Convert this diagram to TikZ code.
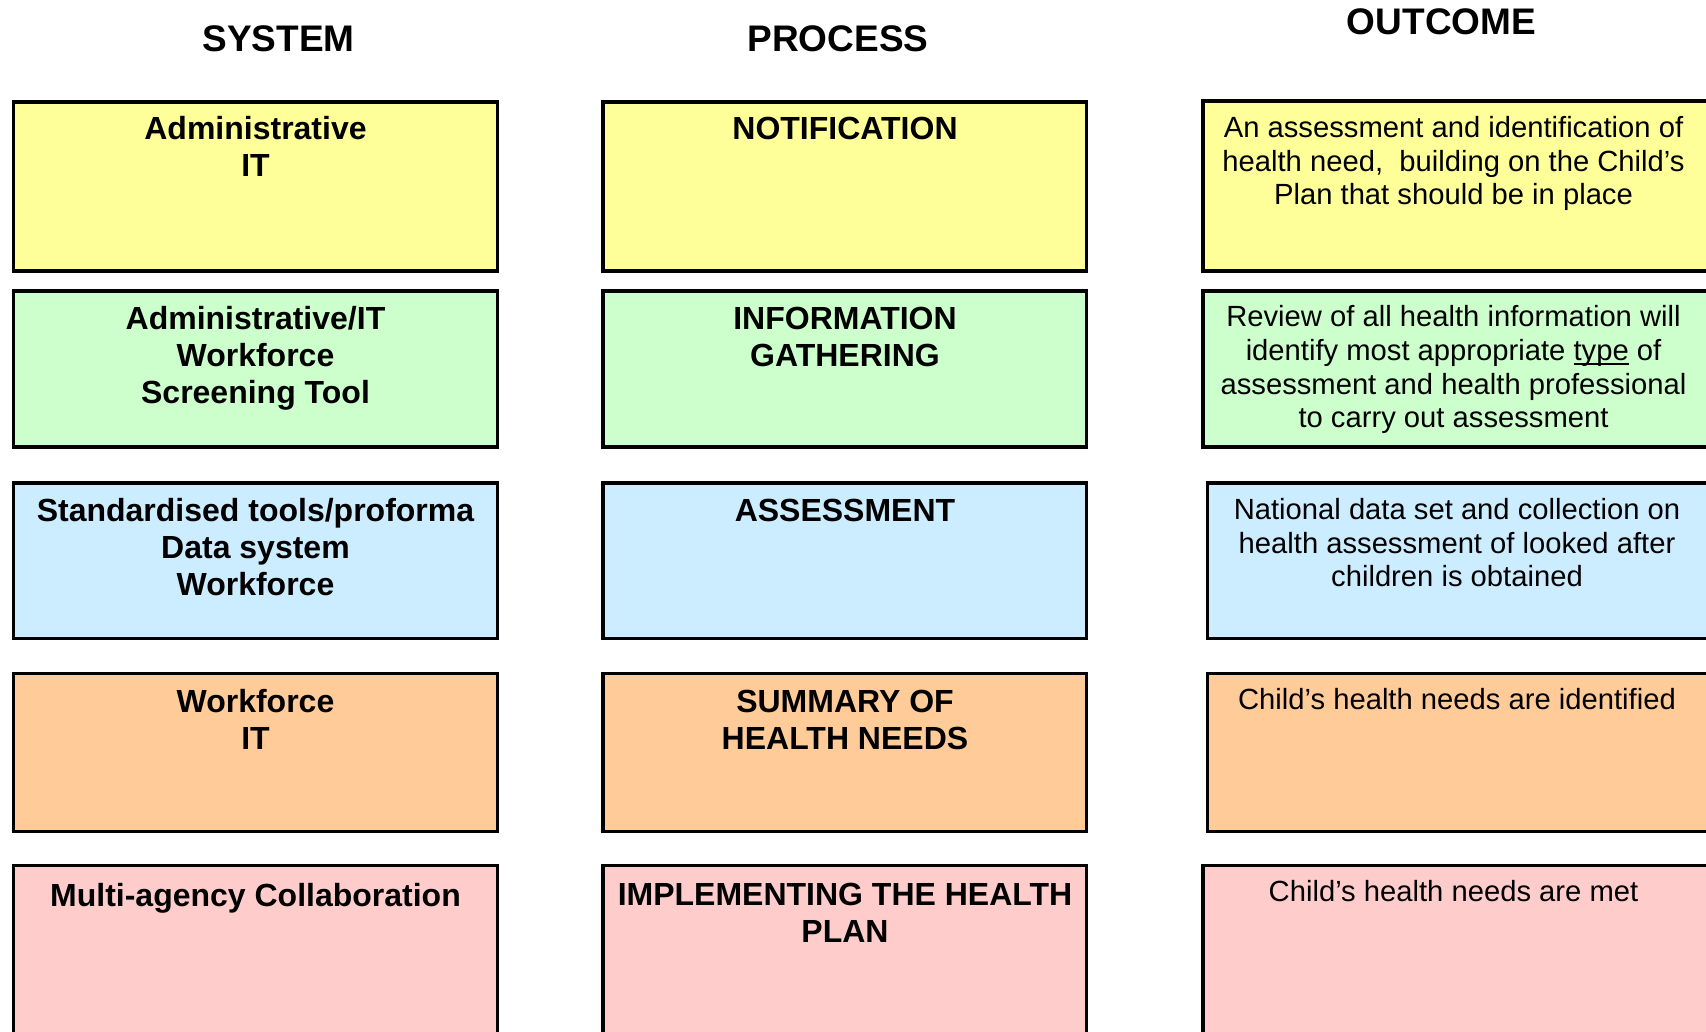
\documentclass[tikz,border=0pt]{standalone}
\usepackage{fontspec}
\setmainfont{Liberation Sans}
\definecolor{cyellow}{HTML}{FFFF99}
\definecolor{cgreen}{HTML}{CCFFCC}
\definecolor{cblue}{HTML}{CCECFF}
\definecolor{corange}{HTML}{FFCC99}
\definecolor{cpink}{HTML}{FFCCCC}
\newcommand{\stack}[1]{\begin{tabular}[t]{@{}c@{}}#1\end{tabular}}
\newcommand{\ruleunder}[1]{\setbox0\hbox{#1}\rlap{\rule[-4pt]{\wd0}{2pt}}\box0\relax}
\begin{document}
\begin{tikzpicture}[x=1pt,y=-1pt,
  cell/.style={draw=black, line width=3.2pt, inner sep=0pt, outer sep=0pt, anchor=north west},
  heading/.style={anchor=base, inner sep=0pt, font=\bfseries\fontsize{37}{42}\selectfont},
  boldtext/.style={anchor=base, inner sep=0pt, font=\bfseries\fontsize{32}{37}\selectfont},
  plaintext/.style={anchor=base, inner sep=0pt, font=\fontsize{29.2}{33.5}\selectfont}]
\useasboundingbox (0,0) rectangle (1706,1032);
\clip (0,0) rectangle (1706,1032);

% column headings
\node[heading] (hsys) at (278.5,52) {SYSTEM};
\node[heading] (hproc) at (838,52) {PROCESS};
\node[heading] (hout) at (1441.5,35) {OUTCOME};

% row 1: notification
\node[cell, fill=cyellow, minimum width=484pt, minimum height=169pt] (s1) at (13.5,102) {};
\node[cell, fill=cyellow, minimum width=483.5pt, minimum height=169pt] (p1) at (603,102) {};
\node[cell, fill=cyellow, minimum width=517pt, minimum height=170pt] (o1) at (1203,101) {};
\node[boldtext] (s1t) at (255.5,140) {\stack{Administrative\\IT}};
\node[boldtext] (p1t) at (845,140) {\stack{NOTIFICATION}};
\node[plaintext] (o1t) at (1453.5,138) {\stack{An assessment and identification of\\health need,\ \ building on the Child’s\\Plan that should be in place}};

% row 2: information gathering
\node[cell, fill=cgreen, minimum width=484pt, minimum height=156pt] (s2) at (13.5,291) {};
\node[cell, fill=cgreen, minimum width=483.5pt, minimum height=156pt] (p2) at (603,291) {};
\node[cell, fill=cgreen, minimum width=517pt, minimum height=156pt] (o2) at (1203,291) {};
\node[boldtext] (s2t) at (255.5,330) {\stack{Administrative/IT\\Workforce\\Screening Tool}};
\node[boldtext] (p2t) at (845,330) {\stack{INFORMATION\\GATHERING}};
\node[plaintext] (o2t) at (1453.5,327) {\stack{Review of all health information will\\identify most appropriate \ruleunder{type} of\\assessment and health professional\\to carry out assessment}};

% row 3: assessment
\node[cell, fill=cblue, minimum width=484pt, minimum height=155.5pt] (s3) at (13.5,483) {};
\node[cell, fill=cblue, minimum width=483.5pt, minimum height=155.5pt] (p3) at (603,483) {};
\node[cell, fill=cblue, minimum width=512.5pt, minimum height=155.5pt] (o3) at (1207.5,483) {};
\node[boldtext] (s3t) at (255.5,521.5) {\stack{Standardised tools/proforma\\Data system\\Workforce}};
\node[boldtext] (p3t) at (845,521.5) {\stack{ASSESSMENT}};
\node[plaintext] (o3t) at (1457,519.5) {\stack{National data set and collection on\\health assessment of looked after\\children is obtained}};

% row 4: summary of health needs
\node[cell, fill=corange, minimum width=484pt, minimum height=158pt] (s4) at (13.5,673.5) {};
\node[cell, fill=corange, minimum width=483.5pt, minimum height=158pt] (p4) at (603,673.5) {};
\node[cell, fill=corange, minimum width=512.5pt, minimum height=158pt] (o4) at (1207.5,673.5) {};
\node[boldtext] (s4t) at (255.5,712) {\stack{Workforce\\IT}};
\node[boldtext] (p4t) at (845,712) {\stack{SUMMARY OF\\HEALTH NEEDS}};
\node[plaintext] (o4t) at (1457,709.5) {\stack{Child’s health needs are identified}};

% row 5: implementing the plan
\node[cell, fill=cpink, minimum width=484pt, minimum height=240pt] (s5) at (13.5,865.5) {};
\node[cell, fill=cpink, minimum width=483.5pt, minimum height=240pt] (p5) at (603,865.5) {};
\node[cell, fill=cpink, minimum width=517pt, minimum height=240pt] (o5) at (1203,865.5) {};
\node[boldtext] (s5t) at (255.5,906) {\stack{Multi-agency Collaboration}};
\node[boldtext] (p5t) at (845,905) {\stack{IMPLEMENTING THE HEALTH\\PLAN}};
\node[plaintext] (o5t) at (1453.5,901.5) {\stack{Child’s health needs are met}};
\end{tikzpicture}
\end{document}
